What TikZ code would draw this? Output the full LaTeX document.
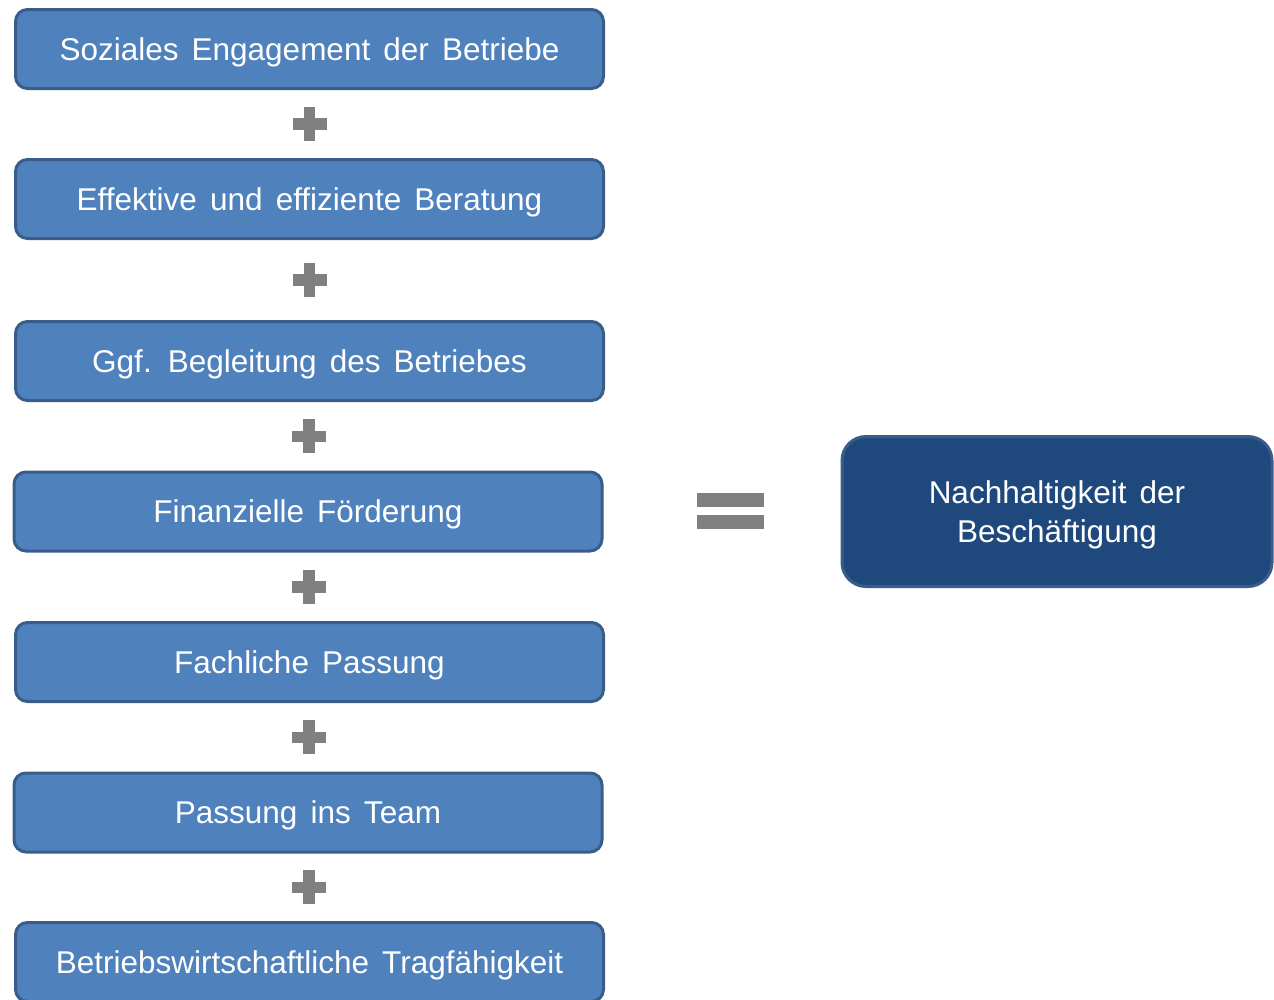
\documentclass[tikz,border=0pt]{standalone}
\usepackage{fontspec}
\setmainfont[WordSpace=1.5]{Liberation Sans}
\usepackage{xcolor}
\usetikzlibrary{calc}

\definecolor{boxblue}{HTML}{4F81BD}
\definecolor{boxedge}{HTML}{385D8A}
\definecolor{goalblue}{HTML}{1F497D}
\definecolor{signgray}{HTML}{808080}

\begin{document}
\begin{tikzpicture}[x=1pt,y=-1pt,
		factor/.style={draw=boxedge, line width=3pt, fill=boxblue, rounded corners=12pt,
			minimum width=588pt, minimum height=79pt, inner sep=0pt, text=white,
			text height=22.5pt, text depth=0pt,
			font=\fontsize{31.5}{39}\selectfont},
		goal/.style={factor, fill=goalblue, rounded corners=24pt, text height=61.5pt,
			minimum width=430pt, minimum height=150pt, align=center}]

		\useasboundingbox (0,0) rectangle (1274,999);

		\def\pl{17}
		\def\pt{5.75}

		% the seven factors
		\foreach \x/\y/\txt [count=\i] in {
			309.5/49/Soziales Engagement der Betriebe,
			309.5/199/Effektive und effiziente Beratung,
			309.5/361/Ggf. Begleitung des Betriebes,
			308/511.5/Finanzielle Förderung,
			309.5/662/Fachliche Passung,
			308/812.5/Passung ins Team,
			309.5/962/Betriebswirtschaftliche Tragfähigkeit} {
			\node[factor] (b\i) at (\x,\y) {\txt};
		}

		% plus signs between them
		\foreach \i [evaluate=\i as \j using int(\i+1)] in {1,...,6} {
			\coordinate (p\i) at ($(b\i.south)!0.5!(b\j.north)$);
			\fill[signgray] ($(p\i)+(-\pl,-\pt)$) rectangle ($(p\i)+(\pl,\pt)$);
			\fill[signgray] ($(p\i)+(-\pt,-\pl)$) rectangle ($(p\i)+(\pt,\pl)$);
		}

		% equals sign and result
		\coordinate (eq) at (730.5,511);
		\fill[signgray] ($(eq)+(-33.5,-18)$) rectangle ($(eq)+(33.5,-4)$);
		\fill[signgray] ($(eq)+(-33.5,4)$) rectangle ($(eq)+(33.5,18)$);

		\node[goal] (res) at (1057,511.5) {Nachhaltigkeit der\\Beschäftigung};
	\end{tikzpicture}
\end{document}
